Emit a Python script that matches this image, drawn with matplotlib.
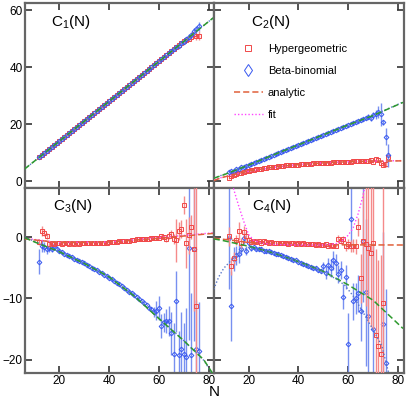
import numpy as np
import matplotlib.pyplot as plt
from matplotlib.lines import Line2D

plt.rcParams['font.family'] = ['Liberation Sans', 'DejaVu Sans']
plt.rcParams['mathtext.default'] = 'regular'

nan = np.nan
N = list(range(12, 77))

# ---- C1(N) ----
c1_hyp = [8.3, 9.2, 9.8, 10.5, 11.2, 11.9, 12.6, 13.3, 14.0, 14.7,
          15.4, 16.1, 16.8, 17.5, 18.2, 18.9, 19.6, 20.3, 21.0, 21.7,
          22.4, 23.1, 23.8, 24.5, 25.2, 25.9, 26.6, 27.3, 28.0, 28.7,
          29.4, 30.1, 30.8, 31.5, 32.2, 32.9, 33.6, 34.3, 35.0, 35.7,
          36.4, 37.1, 37.8, 38.5, 39.2, 39.9, 40.6, 41.3, 42.0, 42.7,
          43.4, 44.1, 44.8, 45.5, 46.2, 46.9, 47.6, 48.3, 49.0, 49.5,
          50.0, 50.4, 51.5, 50.8, 51.0]
c1_hyp_err = [0.3] * 10 + [0.2] * 40 + [0.3, 0.3, 0.4, 0.4, 0.5, 0.5, 0.6, 0.6, 0.8, 0.8,
                                      1.0, 1.0, 1.2, 1.2, 1.5]
c1_bb = [8.5, 9.1, 9.8, 10.6, 11.2, 11.9, 12.5, 13.3, 14.0, 14.8,
         15.4, 16.1, 16.8, 17.5, 18.2, 18.9, 19.6, 20.3, 21.0, 21.7,
         22.4, 23.1, 23.8, 24.5, 25.2, 25.9, 26.6, 27.3, 28.0, 28.7,
         29.4, 30.1, 30.8, 31.5, 32.2, 32.9, 33.6, 34.3, 35.0, 35.7,
         36.4, 37.1, 37.8, 38.5, 39.2, 39.9, 40.6, 41.3, 42.0, 42.7,
         43.4, 44.1, 44.8, 45.5, 46.2, 46.9, 47.5, 48.4, 48.8, 49.9,
         50.6, 51.3, 52.5, 53.2, 54.3]
c1_bb_err = [0.3] * 10 + [0.2] * 40 + [0.3, 0.3, 0.4, 0.4, 0.5, 0.5, 0.6, 0.6, 0.8, 0.8,
                                     1.0, 1.0, 1.2, 1.2, 1.5]
c1_line_n = [6, 82]
c1_line = [4.2, 57.4]

# ---- C2(N) ----
c2_hyp = [1.2, 1.8, 2.2, 2.5, 2.8, 3.0, 3.2, 3.4, 3.6, 3.8,
          3.9, 4.1, 4.2, 4.4, 4.5, 4.6, 4.8, 4.9, 5.0, 5.1,
          5.2, 5.3, 5.4, 5.5, 5.5, 5.6, 5.7, 5.8, 5.8, 5.9,
          6.0, 6.0, 6.1, 6.1, 6.2, 6.3, 6.3, 6.4, 6.4, 6.5,
          6.5, 6.5, 6.6, 6.6, 6.7, 6.7, 6.7, 6.8, 6.8, 6.8,
          6.9, 6.9, 6.9, 6.9, 7.0, 7.0, 7.0, 7.3, 6.7, 7.9,
          7.4, 6.2, 5.6, 6.0, 8.3]
c2_hyp_err = [0.3] * 10 + [0.15] * 40 + [0.2, 0.2, 0.2, 0.3, 0.3, 0.3, 0.4, 0.4, 0.5, 0.5,
                                       0.6, 0.7, 0.8, 1.0, 1.5]
c2_bb = [3.2, 3.5, 3.6, 4.1, 4.4, 4.8, 5.1, 5.4, 5.7, 6.0,
         6.3, 6.7, 7.0, 7.4, 7.7, 8.1, 8.5, 8.8, 9.2, 9.5,
         9.9, 10.2, 10.6, 10.9, 11.3, 11.6, 12.0, 12.3, 12.7, 13.0,
         13.4, 13.7, 14.1, 14.4, 14.8, 15.1, 15.5, 15.8, 16.2, 16.6,
         16.9, 17.3, 17.6, 18.0, 18.3, 18.7, 19.0, 19.4, 19.7, 20.1,
         20.4, 20.8, 21.1, 21.5, 21.8, 22.2, 22.6, 22.0, 23.2, 23.4,
         24.2, 23.4, 20.6, 15.5, 9.0]
c2_bb_err = [0.4] * 10 + [0.2] * 40 + [0.3, 0.3, 0.4, 0.4, 0.5, 0.6, 0.8, 1.0, 1.2, 1.5,
                                     2.0, 4.0, 1.0, 3.0, 4.0]
c2_ana_n = [6, 10, 15, 20, 30, 40, 50, 60, 70, 82]
c2_ana = [0.2, 1.4, 2.5, 3.5, 4.9, 5.8, 6.4, 6.8, 7.0, 7.1]
c2_fit = [0.4, 1.5, 2.5, 3.4, 4.8, 5.8, 6.4, 6.8, 7.0, 7.2]
c2_bba_n = [6, 10, 20, 30, 40, 50, 60, 70, 82]
c2_bba = [1.0, 2.2, 5.6, 9.2, 12.7, 16.2, 19.7, 23.0, 27.6]
c2_bbf = [1.1, 2.3, 5.6, 9.1, 12.6, 16.2, 19.7, 23.1, 27.7]

# ---- C3(N) ----
c3_hyp = [-0.8, 1.0, 0.7, 0.2, -1.2, -1.0, -1.1, -0.9, -1.0, -1.1,
          -1.0, -1.0, -1.1, -1.0, -1.1, -1.0, -1.1, -1.0, -1.0, -1.0,
          -1.0, -1.0, -0.9, -1.0, -0.9, -0.9, -0.9, -0.9, -0.8, -0.8,
          -0.8, -0.8, -0.7, -0.7, -0.7, -0.6, -0.6, -0.5, -0.5, -0.4,
          -0.4, -0.4, -0.3, -0.3, -0.3, -0.2, -0.2, -0.1, -0.1, 0.1,
          0.0, -0.3, 0.2, 0.5, -0.3, -0.5, 1.0, 1.3, 5.2, -1.0,
          0.3, 1.6, -2.0, -11.2, nan]
c3_hyp_err = [0.5, 0.8, 0.6, 0.5, 0.4, 0.3, 0.3, 0.3, 0.2, 0.2] + [0.2] * 40 + \
             [0.4, 0.5, 0.6, 0.7, 0.8, 3.5, 1.5, 1.5, 1.5, 4.0,
              3.0, 2.0, 10.0, 20.0, nan]
c3_bb = [-4.0, -1.5, -1.6, -2.0, -1.8, -2.0, -1.5, -1.9, -2.3, -2.5,
         -2.7, -2.9, -3.1, -3.3, -3.5, -3.7, -3.9, -4.1, -4.3, -4.5,
         -4.7, -5.0, -5.2, -5.4, -5.7, -5.9, -6.2, -6.4, -6.7, -6.9,
         -7.2, -7.5, -7.7, -8.0, -8.3, -8.6, -8.9, -9.2, -9.5, -9.8,
         -10.1, -10.5, -10.8, -11.1, -11.5, -11.8, -12.2, -12.0, -11.6, -14.5,
         -13.9, -13.7, -13.7, -15.7, -19.0, -10.5, -19.3, -18.2, -19.0, -19.5,
         -1.8, -19.2, -2.0, -18.2, -18.6]
c3_bb_err = [2.0, 1.0, 0.8, 0.7, 0.6, 0.5, 0.5, 0.4, 0.3, 0.3] + [0.2] * 36 + \
            [0.8, 1.5, 2.0, 2.0, 1.5, 2.0, 2.5, 3.5, 5.0, 5.0,
             4.0, 6.0, 5.0, 8.0, 15.0, 10.0, 15.0, 8.0, 8.0]
c3_ana_n = [6, 20, 40, 60, 82]
c3_ana = [-0.3, -0.9, -0.8, -0.2, 0.6]
c3_fit = [-0.2, -0.9, -0.8, -0.1, 0.7]
c3_bba_n = [6, 10, 20, 30, 40, 50, 60, 70, 78, 82]
c3_bba = [-0.1, -0.8, -2.4, -4.3, -6.5, -9.6, -13.3, -16.9, -20.0, -22.5]
c3_bbf = [0.0, -0.7, -2.4, -4.3, -6.5, -9.6, -13.2, -16.9, -20.1, -22.6]

# ---- C4(N) ----
c4_hyp = [0.1, -4.7, -3.4, -0.5, 1.0, -1.0, 0.8, 0.2, -0.5, -0.8,
          -0.6, -0.8, -0.7, -0.9, -0.7, -0.8, -0.9, -0.8, -0.9, -1.0,
          -0.9, -1.0, -0.9, -1.0, -1.1, -1.0, -0.9, -1.1, -1.0, -1.1,
          -1.0, -1.1, -1.2, -1.1, -1.2, -1.3, -1.2, -1.3, -1.3, -1.2,
          -1.4, -1.3, -1.5, -1.4, -0.3, -0.6, -0.4, -1.5, -1.2, -1.5,
          -1.4, -1.5, 1.6, -6.7, -0.7, -1.2, -1.8, -2.6, -1.0, -16.0,
          -17.7, -19.0, -10.8, nan, nan]
c4_hyp_err = [1.5, 1.5, 1.0, 0.8, 1.5, 0.8, 1.0, 0.7, 0.5, 0.4] + [0.3] * 34 + \
             [0.6, 0.6, 0.6, 0.8, 0.8, 1.0,
              1.0, 1.2, 1.5, 4.0, 8.0, 10.0, 12.0, 12.0, 14.0, 14.0,
              14.0, 16.0, 20.0, nan, nan]
c4_bb = [-0.2, -11.3, -3.6, -3.0, -2.7, -2.0, -0.2, -2.2, -1.0, -1.8,
         -1.7, -1.9, -2.0, -2.0, -2.2, -2.3, -2.3, -2.5, -2.6, -2.7,
         -2.8, -3.0, -3.1, -3.2, -3.4, -3.5, -3.7, -3.8, -4.0, -4.2,
         -4.4, -4.5, -4.7, -4.9, -5.1, -5.0, -5.4, -5.5, -4.8, -5.8,
         -4.6, -5.0, -3.8, -4.3, -6.0, -5.4, -9.7, -6.5, -17.4, 3.0,
         -10.5, -10.0, -9.2, -12.0, -0.6, -9.0, -12.8, nan, -15.0, nan,
         nan, nan, -14.1, -20.5, nan]
c4_bb_err = [8.3, 5.7, 2.0, 1.5, 1.5, 1.0, 1.0, 0.8, 0.6, 0.5] + [0.3] * 28 + \
            [0.8, 1.0, 1.2, 1.5, 1.5, 1.5, 1.5, 1.5, 2.0, 2.0,
             5.0, 5.0, 3.0, 2.5, 3.0, 5.0, 10.0, 12.0, 12.0, nan,
             14.0, nan, nan, nan, 15.0, 12.0, nan]
c4_ana_n = [6, 15, 20, 30, 40, 82]
c4_ana = [-0.2, -0.6, -0.9, -1.1, -1.25, -1.3]
c4_fit_n = [13.7, 14, 16, 18, 20, 22, 25, 30, 40, 50, 55, 58, 60, 62, 64, 66, 66.8]
c4_fit = [8.5, 7.8, 5.1, 2.6, 0.4, -0.5, -1.0, -1.2, -1.3, -1.3, -1.1, -0.5, 0.3, 1.5, 3.8, 6.8, 8.5]
c4_bba_n = [6, 10, 20, 30, 40, 50, 60, 70, 82]
c4_bba = [-0.3, -0.6, -1.5, -2.6, -4.0, -5.6, -7.8, -10.3, -14.9]
c4_bbf_n = [6, 8, 10, 13, 16, 20, 30, 40, 50, 55, 58.5, 62, 66.6, 70, 73.5, 75.5, 76.5]
c4_bbf = [-8.5, -6.5, -5.1, -3.8, -2.5, -1.7, -2.6, -4.0, -5.7, -6.8, -7.8, -9.6, -12.7, -15.1, -17.7, -21.0, -22.5]

red = '#f04848'
red_e = '#f58a8a'
blue = '#3858f0'
blue_e = '#7890f0'
green = '#2e9a2e'
orange = '#e0603a'
magenta = '#ff44ff'
bdot = '#5a78c8'

fig, axes = plt.subplots(2, 2, figsize=(4.07, 3.99), dpi=100, sharex=True)
fig.subplots_adjust(left=0.062, right=0.992, top=0.992, bottom=0.066, hspace=0, wspace=0)


def points(ax, y_h, e_h, y_b, e_b, blue_top=True):
    kw = dict(capsize=0, elinewidth=1.0, markeredgewidth=0.7,
              markerfacecolor='none', linestyle='none')
    def hyp(z):
        ax.errorbar(N, y_h, yerr=e_h, fmt='s', markersize=2.7, color=red,
                    ecolor=red_e, zorder=z, **kw)
    def bb(z):
        ax.errorbar(N, y_b, yerr=e_b, fmt='D', markersize=2.4, color=blue,
                    ecolor=blue_e, zorder=z, **kw)
    if blue_top:
        hyp(2); bb(3)
    else:
        bb(2); hyp(3)


ls_green = dict(color=green, lw=1.1, dashes=(4, 2), zorder=4)
ls_orange = dict(color=orange, lw=1.1, dashes=(4, 2), zorder=4)
ls_mag = dict(color=magenta, lw=1.0, dashes=(1, 1.5), zorder=4)
ls_bdot = dict(color=bdot, lw=1.0, dashes=(1, 1.5), zorder=4)

ax = axes[0, 0]
points(ax, c1_hyp, c1_hyp_err, c1_bb, c1_bb_err)
ax.plot(c1_line_n, c1_line, **ls_bdot)
ax.plot(c1_line_n, c1_line, **ls_green)

ax = axes[0, 1]
points(ax, c2_hyp, c2_hyp_err, c2_bb, c2_bb_err)
ax.plot(c2_ana_n, c2_fit, **ls_mag)
ax.plot(c2_ana_n, c2_ana, **ls_orange)
ax.plot(c2_bba_n, c2_bbf, **ls_bdot)
ax.plot(c2_bba_n, c2_bba, **ls_green)

ax = axes[1, 0]
points(ax, c3_hyp, c3_hyp_err, c3_bb, c3_bb_err, blue_top=False)
ax.plot(c3_ana_n, c3_fit, **ls_mag)
ax.plot(c3_ana_n, c3_ana, **ls_orange)
ax.plot(c3_bba_n, c3_bbf, **ls_bdot)
ax.plot(c3_bba_n, c3_bba, **ls_green)

ax = axes[1, 1]
points(ax, c4_hyp, c4_hyp_err, c4_bb, c4_bb_err, blue_top=False)
ax.plot(c4_ana_n, c4_ana, **ls_orange)
ax.plot(c4_fit_n, c4_fit, **ls_mag)
ax.plot(c4_bba_n, c4_bba, **ls_green)
ax.plot(c4_bbf_n, c4_bbf, **ls_bdot)

for ax in axes[0]:
    ax.set_ylim(-2.4, 62.4)
    ax.set_yticks([0, 20, 40, 60])
for ax in axes[1]:
    ax.set_ylim(-22.1, 8.0)
    ax.set_yticks([-20, -10, 0])
for ax in axes.flat:
    ax.set_xlim(6.3, 82.3)
    ax.set_xticks([20, 40, 60, 80])
    ax.tick_params(direction='in', top=True, right=True, length=5, width=1.2,
                   color='#333333', labelsize=8.5, pad=2)
    for s in ax.spines.values():
        s.set_linewidth(1.6)
        s.set_color('#666666')
for ax in axes[:, 1]:
    ax.tick_params(labelleft=False)

titles = ['C$_1$(N)', 'C$_2$(N)', 'C$_3$(N)', 'C$_4$(N)']
pos = [(0.135, 0.9), (0.195, 0.9), (0.145, 0.9), (0.2, 0.9)]
for ax, t, p in zip(axes.flat, titles, pos):
    ax.text(p[0], p[1], t, transform=ax.transAxes, fontsize=11, va='center', ha='left')

handles = [
    Line2D([], [], marker='s', color=red, markerfacecolor='none', markersize=5,
           markeredgewidth=0.7, linestyle='none'),
    Line2D([], [], marker='d', color=blue, markerfacecolor='none', markersize=6,
           markeredgewidth=0.7, linestyle='none'),
    Line2D([], [], color=orange, lw=1.1, dashes=(4, 2)),
    Line2D([], [], color=magenta, lw=1.0, dashes=(1, 1.5)),
]
axes[0, 1].legend(handles, ['Hypergeometric', 'Beta-binomial', 'analytic', 'fit'],
                  loc='upper left', bbox_to_anchor=(0.05, 0.835), frameon=False,
                  fontsize=8, handlelength=2.6, handletextpad=0.45, labelspacing=1.1)

fig.text(0.527, 0.0, 'N', fontsize=11, ha='center', va='bottom')

fig.savefig('out.png', dpi=100)
